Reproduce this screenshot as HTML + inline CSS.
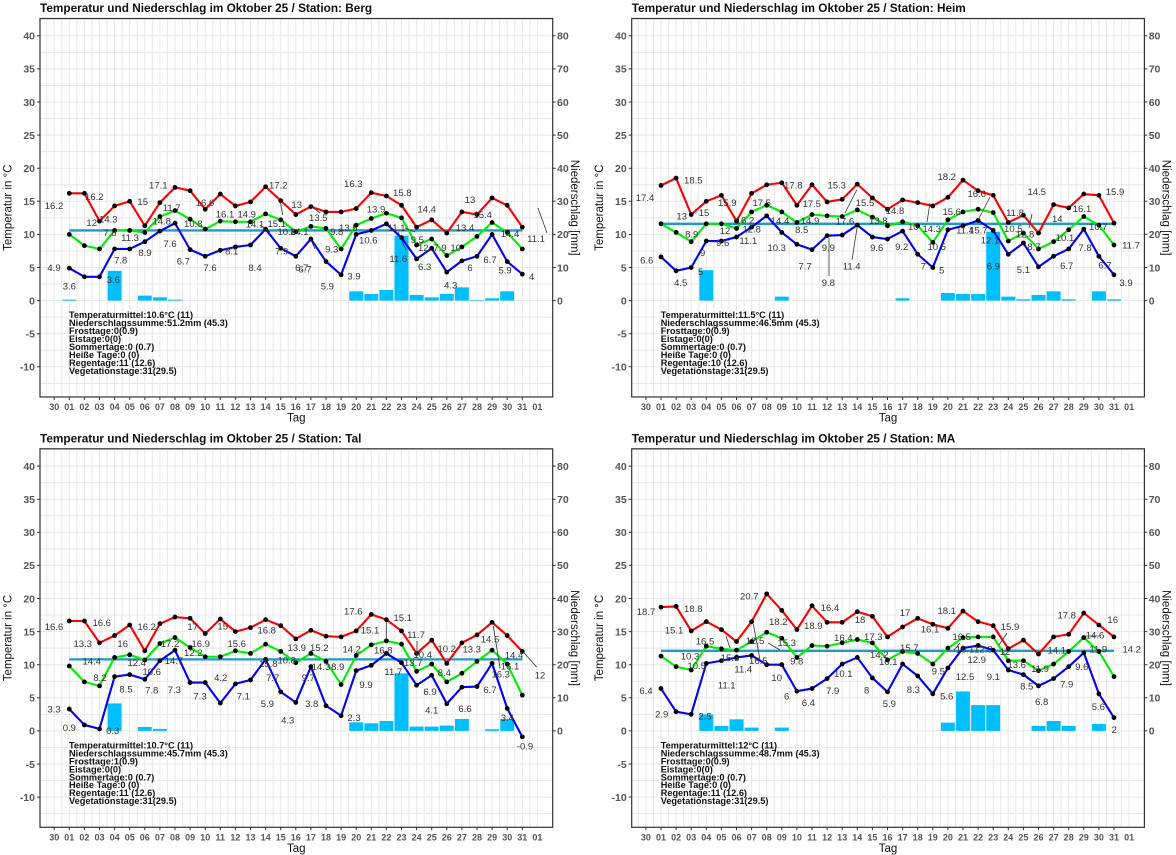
<!DOCTYPE html>
<html><head><meta charset="utf-8">
<style>
html,body{margin:0;padding:0;background:#fff}
svg{display:block;font-family:"Liberation Sans",Arial,sans-serif}
.ln{fill:none;stroke-width:2.1;vector-effect:non-scaling-stroke;stroke-linejoin:round}
.mn{stroke:#1d9bc6;stroke-width:2.3;vector-effect:non-scaling-stroke}
.yt{font-size:10.5px;font-weight:bold;fill:#555;text-anchor:end}
.rt{font-size:10.5px;font-weight:bold;fill:#555}
.xt{font-size:9px;font-weight:bold;fill:#555;text-anchor:middle}
.ti{font-size:11.8px;font-weight:bold;fill:#111}
.at{font-size:11.5px;fill:#111;text-anchor:middle}
.st{font-size:9.2px;font-weight:bold;fill:#111}
.lb{font-size:9.5px;fill:#333;text-anchor:middle}
.ll{stroke:#333;stroke-width:0.8;fill:none}
</style></head><body>
<svg width="1176" height="855" viewBox="0 0 1176 855" xmlns="http://www.w3.org/2000/svg">
<defs>
<marker id="dt" markerUnits="userSpaceOnUse" markerWidth="1" markerHeight="1" refX="0" refY="0" overflow="visible"><circle r="2.4" transform="scale(0.06623,0.15106)" fill="#000"/></marker>
<g id="fr">
<rect x="40" y="18.5" width="512.7" height="378.5" fill="#fff"/>
<path fill="none" stroke="#e8e8e8" stroke-width="1" d="M40,19.25h512.7m-512.7,16.55h512.7m-512.7,16.55h512.7m-512.7,16.55h512.7m-512.7,16.55h512.7m-512.7,16.55h512.7m-512.7,16.55h512.7m-512.7,16.55h512.7m-512.7,16.55h512.7m-512.7,16.55h512.7m-512.7,16.55h512.7m-512.7,16.55h512.7m-512.7,16.55h512.7m-512.7,16.55h512.7m-512.7,16.55h512.7m-512.7,16.55h512.7m-512.7,16.55h512.7m-512.7,16.55h512.7m-512.7,16.55h512.7m-512.7,16.55h512.7m-512.7,16.55h512.7m-512.7,16.55h512.7m-512.7,16.55h512.7"/>
<path fill="none" stroke="#e8e8e8" stroke-width="1" d="M46.65,18.5v378.5m7.55-378.5v378.5m7.55-378.5v378.5m7.55-378.5v378.5m7.55-378.5v378.5m7.55-378.5v378.5m7.55-378.5v378.5m7.55-378.5v378.5m7.55-378.5v378.5m7.55-378.5v378.5m7.55-378.5v378.5m7.55-378.5v378.5m7.55-378.5v378.5m7.55-378.5v378.5m7.55-378.5v378.5m7.55-378.5v378.5m7.55-378.5v378.5m7.55-378.5v378.5m7.55-378.5v378.5m7.55-378.5v378.5m7.55-378.5v378.5m7.55-378.5v378.5m7.55-378.5v378.5m7.55-378.5v378.5m7.55-378.5v378.5m7.55-378.5v378.5m7.55-378.5v378.5m7.55-378.5v378.5m7.55-378.5v378.5m7.55-378.5v378.5m7.55-378.5v378.5m7.55-378.5v378.5m7.55-378.5v378.5m7.55-378.5v378.5m7.55-378.5v378.5m7.55-378.5v378.5m7.55-378.5v378.5m7.55-378.5v378.5m7.55-378.5v378.5m7.55-378.5v378.5m7.55-378.5v378.5m7.55-378.5v378.5m7.55-378.5v378.5m7.55-378.5v378.5m7.55-378.5v378.5m7.55-378.5v378.5m7.55-378.5v378.5m7.55-378.5v378.5m7.55-378.5v378.5m7.55-378.5v378.5m7.55-378.5v378.5m7.55-378.5v378.5m7.55-378.5v378.5m7.55-378.5v378.5m7.55-378.5v378.5m7.55-378.5v378.5m7.55-378.5v378.5m7.55-378.5v378.5m7.55-378.5v378.5m7.55-378.5v378.5m7.55-378.5v378.5m7.55-378.5v378.5m7.55-378.5v378.5m7.55-378.5v378.5m7.55-378.5v378.5m7.55-378.5v378.5"/>
<rect x="40" y="18.5" width="512.7" height="378.5" fill="none" stroke="#333" stroke-width="1.2"/>
<path fill="none" stroke="#333" stroke-width="1" d="M37,35.8h3M37,68.9h3M37,102h3M37,135.1h3M37,168.2h3M37,201.3h3M37,234.4h3M37,267.5h3M37,300.6h3M37,333.7h3M37,366.8h3M552.7,35.8h3M552.7,68.9h3M552.7,102h3M552.7,135.1h3M552.7,168.2h3M552.7,201.3h3M552.7,234.4h3M552.7,267.5h3M552.7,300.6h3M54.2,397v3m15.1-3v3m15.1-3v3m15.1-3v3m15.1-3v3m15.1-3v3m15.1-3v3m15.1-3v3m15.1-3v3m15.1-3v3m15.1-3v3m15.1-3v3m15.1-3v3m15.1-3v3m15.1-3v3m15.1-3v3m15.1-3v3m15.1-3v3m15.1-3v3m15.1-3v3m15.1-3v3m15.1-3v3m15.1-3v3m15.1-3v3m15.1-3v3m15.1-3v3m15.1-3v3m15.1-3v3m15.1-3v3m15.1-3v3m15.1-3v3m15.1-3v3"/>
</g>
</defs>
<rect width="1176" height="855" fill="#fff"/>

<!-- ===== PANEL 1 : Berg ===== -->
<g>
<use href="#fr"/>
<text class="ti" x="40" y="12">Temperatur und Niederschlag im Oktober 25 / Station: Berg</text>
<g class="yt"><text x="35" y="39.6">40</text><text x="35" y="72.7">35</text><text x="35" y="105.8">30</text><text x="35" y="138.9">25</text><text x="35" y="172">20</text><text x="35" y="205.1">15</text><text x="35" y="238.2">10</text><text x="35" y="271.3">5</text><text x="35" y="304.4">0</text><text x="35" y="337.5">-5</text><text x="35" y="370.6">-10</text></g>
<g class="rt"><text x="557" y="39.6">80</text><text x="557" y="72.7">70</text><text x="557" y="105.8">60</text><text x="557" y="138.9">50</text><text x="557" y="172">40</text><text x="557" y="205.1">30</text><text x="557" y="238.2">20</text><text x="557" y="271.3">10</text><text x="557" y="304.4">0</text></g>
<text class="xt" y="410"><tspan x="54.2">30</tspan><tspan x="69.3">01</tspan><tspan x="84.4">02</tspan><tspan x="99.5">03</tspan><tspan x="114.6">04</tspan><tspan x="129.7">05</tspan><tspan x="144.8">06</tspan><tspan x="159.9">07</tspan><tspan x="175">08</tspan><tspan x="190.1">09</tspan><tspan x="205.2">10</tspan><tspan x="220.3">11</tspan><tspan x="235.4">12</tspan><tspan x="250.5">13</tspan><tspan x="265.6">14</tspan><tspan x="280.7">15</tspan><tspan x="295.8">16</tspan><tspan x="310.9">17</tspan><tspan x="326">18</tspan><tspan x="341.1">19</tspan><tspan x="356.2">20</tspan><tspan x="371.3">21</tspan><tspan x="386.4">22</tspan><tspan x="401.5">23</tspan><tspan x="416.6">24</tspan><tspan x="431.7">25</tspan><tspan x="446.8">26</tspan><tspan x="461.9">27</tspan><tspan x="477">28</tspan><tspan x="492.1">29</tspan><tspan x="507.2">30</tspan><tspan x="522.3">31</tspan><tspan x="537.4">01</tspan></text>
<text class="at" transform="translate(11.5,207.7) rotate(-90)">Temperatur in °C</text>
<text class="at" transform="translate(571,207.7) rotate(90)">Niederschlag [mm]</text>
<text class="at" x="296.3" y="421.5">Tag</text>
<g transform="translate(54.2,300.6) scale(15.1,-6.62)">
<g fill="#00bfff"><rect x="0.54" y="0" width="0.92" height="0.15"/><rect x="3.54" y="0" width="0.92" height="4.5"/><rect x="5.54" y="0" width="0.92" height="0.75"/><rect x="6.54" y="0" width="0.92" height="0.5"/><rect x="7.54" y="0" width="0.92" height="0.15"/><rect x="19.54" y="0" width="0.92" height="1.4"/><rect x="20.54" y="0" width="0.92" height="1"/><rect x="21.54" y="0" width="0.92" height="1.6"/><rect x="22.54" y="0" width="0.92" height="9.8"/><rect x="23.54" y="0" width="0.92" height="0.85"/><rect x="24.54" y="0" width="0.92" height="0.5"/><rect x="25.54" y="0" width="0.92" height="1"/><rect x="26.54" y="0" width="0.92" height="2"/><rect x="27.54" y="0" width="0.92" height="0.1"/><rect x="28.54" y="0" width="0.92" height="0.35"/><rect x="29.54" y="0" width="0.92" height="1.4"/></g>
<line class="mn" x1="1" y1="10.6" x2="31" y2="10.6"/>
<polyline class="ln" stroke="#ff0000" marker-start="url(#dt)" marker-mid="url(#dt)" marker-end="url(#dt)" points="1,16.2 2,16.2 3,12 4,14.3 5,15 6,11.3 7,14.8 8,17.1 9,16.6 10,13.8 11,16.1 12,14.3 13,14.9 14,17.2 15,15.1 16,13 17,14.2 18,13.4 19,13.4 20,13.9 21,16.3 22,15.8 23,14.4 24,11.1 25,12.2 26,10.2 27,13.4 28,13 29,15.5 30,14.4 31,11.1"/>
<polyline class="ln" stroke="#00ee00" marker-start="url(#dt)" marker-mid="url(#dt)" marker-end="url(#dt)" points="1,10 2,8.3 3,7.8 4,10.6 5,10.6 6,10.3 7,12.7 8,13.6 9,12.3 10,10.8 11,12 12,11.9 13,11.9 14,13.1 15,12.2 16,10.4 17,11.2 18,10.9 19,7.8 20,11.4 21,12.4 22,13.2 23,12.5 24,8.4 25,9.3 26,6.8 27,8.1 28,9.7 29,11.8 30,10.3 31,7.8"/>
<polyline class="ln" stroke="#0000ff" marker-start="url(#dt)" marker-mid="url(#dt)" marker-end="url(#dt)" points="1,4.9 2,3.6 3,3.6 4,7.8 5,7.8 6,8.9 7,10.5 8,11.7 9,7.7 10,6.7 11,7.6 12,8.1 13,8.4 14,10.8 15,7.9 16,6.7 17,9.3 18,5.9 19,3.9 20,10 21,10.6 22,11.6 23,9.5 24,6.3 25,7.9 26,4.3 27,6 28,6.7 29,10 30,5.9 31,4"/>
</g>
<g class="st"><text x="69" y="318.2">Temperaturmittel:10.6°C (11)</text><text x="69" y="326.1">Niederschlagssumme:51.2mm (45.3)</text><text x="69" y="334">Frosttage:0(0.9)</text><text x="69" y="342">Eistage:0(0)</text><text x="69" y="350">Sommertage:0 (0.7)</text><text x="69" y="357.9">Heiße Tage:0 (0)</text><text x="69" y="365.8">Regentage:11 (12.6)</text><text x="69" y="373.8">Vegetationstage:31(29.5)</text></g>
</g>

<!-- ===== PANEL 2 : Heim ===== -->
<g transform="translate(591.7,0)">
<use href="#fr"/>
<text class="ti" x="40" y="12">Temperatur und Niederschlag im Oktober 25 / Station: Heim</text>
<g class="yt"><text x="35" y="39.6">40</text><text x="35" y="72.7">35</text><text x="35" y="105.8">30</text><text x="35" y="138.9">25</text><text x="35" y="172">20</text><text x="35" y="205.1">15</text><text x="35" y="238.2">10</text><text x="35" y="271.3">5</text><text x="35" y="304.4">0</text><text x="35" y="337.5">-5</text><text x="35" y="370.6">-10</text></g>
<g class="rt"><text x="557" y="39.6">80</text><text x="557" y="72.7">70</text><text x="557" y="105.8">60</text><text x="557" y="138.9">50</text><text x="557" y="172">40</text><text x="557" y="205.1">30</text><text x="557" y="238.2">20</text><text x="557" y="271.3">10</text><text x="557" y="304.4">0</text></g>
<text class="xt" y="410"><tspan x="54.2">30</tspan><tspan x="69.3">01</tspan><tspan x="84.4">02</tspan><tspan x="99.5">03</tspan><tspan x="114.6">04</tspan><tspan x="129.7">05</tspan><tspan x="144.8">06</tspan><tspan x="159.9">07</tspan><tspan x="175">08</tspan><tspan x="190.1">09</tspan><tspan x="205.2">10</tspan><tspan x="220.3">11</tspan><tspan x="235.4">12</tspan><tspan x="250.5">13</tspan><tspan x="265.6">14</tspan><tspan x="280.7">15</tspan><tspan x="295.8">16</tspan><tspan x="310.9">17</tspan><tspan x="326">18</tspan><tspan x="341.1">19</tspan><tspan x="356.2">20</tspan><tspan x="371.3">21</tspan><tspan x="386.4">22</tspan><tspan x="401.5">23</tspan><tspan x="416.6">24</tspan><tspan x="431.7">25</tspan><tspan x="446.8">26</tspan><tspan x="461.9">27</tspan><tspan x="477">28</tspan><tspan x="492.1">29</tspan><tspan x="507.2">30</tspan><tspan x="522.3">31</tspan><tspan x="537.4">01</tspan></text>
<text class="at" transform="translate(11.5,207.7) rotate(-90)">Temperatur in °C</text>
<text class="at" transform="translate(571,207.7) rotate(90)">Niederschlag [mm]</text>
<text class="at" x="296.3" y="421.5">Tag</text>
<g transform="translate(54.2,300.6) scale(15.1,-6.62)">
<g fill="#00bfff"><rect x="3.54" y="0" width="0.92" height="4.6"/><rect x="8.54" y="0" width="0.92" height="0.6"/><rect x="16.54" y="0" width="0.92" height="0.35"/><rect x="19.54" y="0" width="0.92" height="1.15"/><rect x="20.54" y="0" width="0.92" height="1"/><rect x="21.54" y="0" width="0.92" height="1"/><rect x="22.54" y="0" width="0.92" height="10.4"/><rect x="23.54" y="0" width="0.92" height="0.6"/><rect x="24.54" y="0" width="0.92" height="0.2"/><rect x="25.54" y="0" width="0.92" height="0.85"/><rect x="26.54" y="0" width="0.92" height="1.4"/><rect x="27.54" y="0" width="0.92" height="0.2"/><rect x="29.54" y="0" width="0.92" height="1.4"/><rect x="30.54" y="0" width="0.92" height="0.2"/></g>
<line class="mn" x1="1" y1="11.6" x2="31" y2="11.6"/>
<polyline class="ln" stroke="#ff0000" marker-start="url(#dt)" marker-mid="url(#dt)" marker-end="url(#dt)" points="1,17.4 2,18.5 3,13 4,15 5,15.9 6,12 7,16.2 8,17.5 9,17.8 10,14.4 11,17.5 12,14.9 13,15.3 14,17.6 15,15.5 16,13.8 17,15.2 18,14.8 19,14.3 20,15.6 21,18.2 22,16.6 23,15.9 24,11.8 25,12.9 26,10.2 27,14.5 28,14 29,16.1 30,15.9 31,11.7"/>
<polyline class="ln" stroke="#00ee00" marker-start="url(#dt)" marker-mid="url(#dt)" marker-end="url(#dt)" points="1,11.6 2,10.3 3,8.9 4,11.6 5,11.6 6,10.9 7,13.4 8,14.4 9,13.4 10,11.8 11,13 12,12.8 13,12.7 14,13.7 15,12.6 16,11.3 17,11.9 18,11.3 19,8.8 20,12.2 21,13.4 22,13.8 23,13.3 24,9 25,10.2 26,7.8 27,8.9 28,10.7 29,12.7 30,11.4 31,8.4"/>
<polyline class="ln" stroke="#0000ff" marker-start="url(#dt)" marker-mid="url(#dt)" marker-end="url(#dt)" points="1,6.6 2,4.5 3,5 4,9 5,9 6,9.6 7,11.1 8,12.8 9,10.3 10,8.5 11,7.7 12,9.8 13,9.9 14,11.4 15,9.6 16,9.3 17,10.5 18,7 19,5 20,10.7 21,11.3 22,12.1 23,10.6 24,7 25,8.7 26,5.1 27,6.7 28,7.8 29,10.8 30,6.7 31,3.9"/>
</g>
<g class="st"><text x="69" y="318.2">Temperaturmittel:11.5°C (11)</text><text x="69" y="326.1">Niederschlagssumme:46.5mm (45.3)</text><text x="69" y="334">Frosttage:0(0.9)</text><text x="69" y="342">Eistage:0(0)</text><text x="69" y="350">Sommertage:0 (0.7)</text><text x="69" y="357.9">Heiße Tage:0 (0)</text><text x="69" y="365.8">Regentage:10 (12.6)</text><text x="69" y="373.8">Vegetationstage:31(29.5)</text></g>
</g>

<!-- ===== PANEL 3 : Tal ===== -->
<g transform="translate(0,430.3)">
<use href="#fr"/>
<text class="ti" x="40" y="12">Temperatur und Niederschlag im Oktober 25 / Station: Tal</text>
<g class="yt"><text x="35" y="39.6">40</text><text x="35" y="72.7">35</text><text x="35" y="105.8">30</text><text x="35" y="138.9">25</text><text x="35" y="172">20</text><text x="35" y="205.1">15</text><text x="35" y="238.2">10</text><text x="35" y="271.3">5</text><text x="35" y="304.4">0</text><text x="35" y="337.5">-5</text><text x="35" y="370.6">-10</text></g>
<g class="rt"><text x="557" y="39.6">80</text><text x="557" y="72.7">70</text><text x="557" y="105.8">60</text><text x="557" y="138.9">50</text><text x="557" y="172">40</text><text x="557" y="205.1">30</text><text x="557" y="238.2">20</text><text x="557" y="271.3">10</text><text x="557" y="304.4">0</text></g>
<text class="xt" y="410"><tspan x="54.2">30</tspan><tspan x="69.3">01</tspan><tspan x="84.4">02</tspan><tspan x="99.5">03</tspan><tspan x="114.6">04</tspan><tspan x="129.7">05</tspan><tspan x="144.8">06</tspan><tspan x="159.9">07</tspan><tspan x="175">08</tspan><tspan x="190.1">09</tspan><tspan x="205.2">10</tspan><tspan x="220.3">11</tspan><tspan x="235.4">12</tspan><tspan x="250.5">13</tspan><tspan x="265.6">14</tspan><tspan x="280.7">15</tspan><tspan x="295.8">16</tspan><tspan x="310.9">17</tspan><tspan x="326">18</tspan><tspan x="341.1">19</tspan><tspan x="356.2">20</tspan><tspan x="371.3">21</tspan><tspan x="386.4">22</tspan><tspan x="401.5">23</tspan><tspan x="416.6">24</tspan><tspan x="431.7">25</tspan><tspan x="446.8">26</tspan><tspan x="461.9">27</tspan><tspan x="477">28</tspan><tspan x="492.1">29</tspan><tspan x="507.2">30</tspan><tspan x="522.3">31</tspan><tspan x="537.4">01</tspan></text>
<text class="at" transform="translate(11.5,207.7) rotate(-90)">Temperatur in °C</text>
<text class="at" transform="translate(571,207.7) rotate(90)">Niederschlag [mm]</text>
<text class="at" x="296.3" y="421.5">Tag</text>
<g transform="translate(54.2,300.6) scale(15.1,-6.62)">
<g fill="#00bfff"><rect x="3.54" y="0" width="0.92" height="4.15"/><rect x="5.54" y="0" width="0.92" height="0.6"/><rect x="6.54" y="0" width="0.92" height="0.3"/><rect x="19.54" y="0" width="0.92" height="1.3"/><rect x="20.54" y="0" width="0.92" height="1.15"/><rect x="21.54" y="0" width="0.92" height="1.5"/><rect x="22.54" y="0" width="0.92" height="8.7"/><rect x="23.54" y="0" width="0.92" height="0.65"/><rect x="24.54" y="0" width="0.92" height="0.65"/><rect x="25.54" y="0" width="0.92" height="0.8"/><rect x="26.54" y="0" width="0.92" height="1.8"/><rect x="28.54" y="0" width="0.92" height="0.25"/><rect x="29.54" y="0" width="0.92" height="1.8"/></g>
<line class="mn" x1="1" y1="10.8" x2="31" y2="10.8"/>
<polyline class="ln" stroke="#ff0000" marker-start="url(#dt)" marker-mid="url(#dt)" marker-end="url(#dt)" points="1,16.6 2,16.6 3,13.3 4,14.4 5,16 6,12.1 7,16.2 8,17.2 9,17 10,14.7 11,16.9 12,15 13,15.6 14,16.8 15,15.9 16,13.9 17,15.2 18,14.3 19,14.2 20,15.1 21,17.6 22,16.8 23,15.1 24,11.7 25,13.7 26,10.2 27,13.3 28,14.5 29,16.4 30,14.4 31,12"/>
<polyline class="ln" stroke="#00ee00" marker-start="url(#dt)" marker-mid="url(#dt)" marker-end="url(#dt)" points="1,9.8 2,7.4 3,6.8 4,11.1 5,11.5 6,10.7 7,13.2 8,14.1 9,12.6 10,11.2 11,11.2 12,12.1 13,11.7 14,13.1 15,12 16,10.3 17,11.7 18,10.5 19,7 20,11.4 21,13 22,13.6 23,13.1 24,9 25,10.1 26,7.4 27,8.7 28,10.5 29,12.2 30,10.1 31,5.4"/>
<polyline class="ln" stroke="#0000ff" marker-start="url(#dt)" marker-mid="url(#dt)" marker-end="url(#dt)" points="1,3.3 2,0.9 3,0.3 4,8.2 5,8.5 6,7.8 7,10.6 8,12.2 9,7.3 10,7.3 11,4.2 12,7.1 13,7.7 14,10.8 15,5.9 16,4.3 17,9.7 18,3.8 19,2.3 20,9.1 21,9.9 22,11.7 23,10.3 24,6.9 25,8.4 26,4.1 27,6.6 28,6.7 29,10.2 30,3.4 31,-0.9"/>
</g>
<g class="st"><text x="69" y="318.2">Temperaturmittel:10.7°C (11)</text><text x="69" y="326.1">Niederschlagssumme:45.7mm (45.3)</text><text x="69" y="334">Frosttage:1(0.9)</text><text x="69" y="342">Eistage:0(0)</text><text x="69" y="350">Sommertage:0 (0.7)</text><text x="69" y="357.9">Heiße Tage:0 (0)</text><text x="69" y="365.8">Regentage:11 (12.6)</text><text x="69" y="373.8">Vegetationstage:31(29.5)</text></g>
</g>

<!-- ===== PANEL 4 : MA ===== -->
<g transform="translate(591.7,430.3)">
<use href="#fr"/>
<text class="ti" x="40" y="12">Temperatur und Niederschlag im Oktober 25 / Station: MA</text>
<g class="yt"><text x="35" y="39.6">40</text><text x="35" y="72.7">35</text><text x="35" y="105.8">30</text><text x="35" y="138.9">25</text><text x="35" y="172">20</text><text x="35" y="205.1">15</text><text x="35" y="238.2">10</text><text x="35" y="271.3">5</text><text x="35" y="304.4">0</text><text x="35" y="337.5">-5</text><text x="35" y="370.6">-10</text></g>
<g class="rt"><text x="557" y="39.6">80</text><text x="557" y="72.7">70</text><text x="557" y="105.8">60</text><text x="557" y="138.9">50</text><text x="557" y="172">40</text><text x="557" y="205.1">30</text><text x="557" y="238.2">20</text><text x="557" y="271.3">10</text><text x="557" y="304.4">0</text></g>
<text class="xt" y="410"><tspan x="54.2">30</tspan><tspan x="69.3">01</tspan><tspan x="84.4">02</tspan><tspan x="99.5">03</tspan><tspan x="114.6">04</tspan><tspan x="129.7">05</tspan><tspan x="144.8">06</tspan><tspan x="159.9">07</tspan><tspan x="175">08</tspan><tspan x="190.1">09</tspan><tspan x="205.2">10</tspan><tspan x="220.3">11</tspan><tspan x="235.4">12</tspan><tspan x="250.5">13</tspan><tspan x="265.6">14</tspan><tspan x="280.7">15</tspan><tspan x="295.8">16</tspan><tspan x="310.9">17</tspan><tspan x="326">18</tspan><tspan x="341.1">19</tspan><tspan x="356.2">20</tspan><tspan x="371.3">21</tspan><tspan x="386.4">22</tspan><tspan x="401.5">23</tspan><tspan x="416.6">24</tspan><tspan x="431.7">25</tspan><tspan x="446.8">26</tspan><tspan x="461.9">27</tspan><tspan x="477">28</tspan><tspan x="492.1">29</tspan><tspan x="507.2">30</tspan><tspan x="522.3">31</tspan><tspan x="537.4">01</tspan></text>
<text class="at" transform="translate(11.5,207.7) rotate(-90)">Temperatur in °C</text>
<text class="at" transform="translate(571,207.7) rotate(90)">Niederschlag [mm]</text>
<text class="at" x="296.3" y="421.5">Tag</text>
<g transform="translate(54.2,300.6) scale(15.1,-6.62)">
<g fill="#00bfff"><rect x="3.54" y="0" width="0.92" height="2.5"/><rect x="4.54" y="0" width="0.92" height="0.75"/><rect x="5.54" y="0" width="0.92" height="1.75"/><rect x="6.54" y="0" width="0.92" height="0.5"/><rect x="8.54" y="0" width="0.92" height="0.5"/><rect x="19.54" y="0" width="0.92" height="1.25"/><rect x="20.54" y="0" width="0.92" height="5.95"/><rect x="21.54" y="0" width="0.92" height="3.9"/><rect x="22.54" y="0" width="0.92" height="3.9"/><rect x="25.54" y="0" width="0.92" height="0.75"/><rect x="26.54" y="0" width="0.92" height="1.5"/><rect x="27.54" y="0" width="0.92" height="0.75"/><rect x="29.54" y="0" width="0.92" height="1.05"/></g>
<line class="mn" x1="1" y1="12.1" x2="31" y2="12.1"/>
<polyline class="ln" stroke="#ff0000" marker-start="url(#dt)" marker-mid="url(#dt)" marker-end="url(#dt)" points="1,18.7 2,18.8 3,15.1 4,16.5 5,15.3 6,13.5 7,16.5 8,20.7 9,18.2 10,15.3 11,18.9 12,16.4 13,16.4 14,18 15,17.3 16,14.2 17,15.7 18,17 19,16.1 20,15.5 21,18.1 22,16.5 23,15.9 24,12.4 25,13.7 26,11.6 27,14.2 28,14.6 29,17.8 30,16 31,14.2"/>
<polyline class="ln" stroke="#00ee00" marker-start="url(#dt)" marker-mid="url(#dt)" marker-end="url(#dt)" points="1,11.3 2,9.7 3,9.2 4,12.8 5,12.4 6,12.2 7,13.5 8,14.9 9,14 10,11.1 11,12.9 12,12.8 13,13.3 14,13.8 15,13.3 16,10.7 17,12 18,11.7 19,10.1 20,12.5 21,14.1 22,14.2 23,14.2 24,10.6 25,10.6 26,9.1 27,10.1 28,12 29,14.1 30,12 31,8.2"/>
<polyline class="ln" stroke="#0000ff" marker-start="url(#dt)" marker-mid="url(#dt)" marker-end="url(#dt)" points="1,6.4 2,2.9 3,2.5 4,10.2 5,10.6 6,11.1 7,11.4 8,10 9,10 10,6 11,6.4 12,7.9 13,10.1 14,11.1 15,8 16,5.9 17,10.1 18,8.3 19,5.6 20,9.5 21,12.5 22,12.9 23,12.2 24,9.2 25,8.5 26,6.8 27,7.9 28,9.7 29,11.8 30,5.6 31,2"/>
</g>
<g class="st"><text x="69" y="318.2">Temperaturmittel:12°C (11)</text><text x="69" y="326.1">Niederschlagssumme:48.7mm (45.3)</text><text x="69" y="334">Frosttage:0(0.9)</text><text x="69" y="342">Eistage:0(0)</text><text x="69" y="350">Sommertage:0 (0.7)</text><text x="69" y="357.9">Heiße Tage:0 (0)</text><text x="69" y="365.8">Regentage:11 (12.6)</text><text x="69" y="373.8">Vegetationstage:31(29.5)</text></g>
</g>

<!-- ===== LEADER LINES ===== -->
<path class="ll" d="M280,200L282.7,215M320,213L311,206M260,225L270,232M415,232L405,228M538,208L547,233M315,249L311,240M406,250L398,232M856.7,190L845,213M829,238L829,276M857,228L852,260M927,222L930,203M990,197L978,220M1029,228L1032,214M386.3,622L386.3,640M493.3,626L500,668M523.3,652L536.7,667M417,641L417,655M753.3,624L760,660M726,636L730,648M780,650L768,643M1084,636L1100,636M954,650L960,643M999,645L1007,633"/>

<!-- ===== DATA LABELS ===== -->
<g class="lb">
<text x="54" y="209.2">16.2</text><text x="94.3" y="200.2">16.2</text><text x="158.3" y="188.5">17.1</text><text x="278.3" y="188.5">17.2</text><text x="142.7" y="205.2">15</text><text x="91.7" y="225.8">12</text><text x="108.3" y="222.5">14.3</text><text x="171.7" y="210.8">11.7</text><text x="205" y="205.8">16.6</text><text x="225" y="217.5">16.1</text><text x="246.7" y="217.5">14.9</text><text x="161.7" y="224.5">14.8</text><text x="193.3" y="226.8">10.8</text><text x="255" y="227.5">14.1</text><text x="276.7" y="226.8">15.1</text><text x="286.7" y="235.2">10.8</text><text x="110" y="235.8">7.8</text><text x="130" y="241.2">11.3</text><text x="170" y="246.8">7.6</text><text x="145" y="255.8">8.9</text><text x="120.7" y="263.5">7.8</text><text x="183.3" y="264.5">6.7</text><text x="231.7" y="254.5">8.1</text><text x="281.7" y="254.5">7.9</text><text x="210" y="271.2">7.6</text><text x="255" y="271.2">8.4</text><text x="301.7" y="271.2">6.7</text><text x="54" y="271.2">4.9</text><text x="69.3" y="289.5">3.6</text><text x="113.3" y="282.8">3.6</text><text x="296.7" y="207.8">13</text><text x="318.3" y="221.2">13.5</text><text x="353.3" y="186.8">16.3</text><text x="402.3" y="195.8">15.8</text><text x="426.7" y="212.5">14.4</text><text x="376" y="212.5">13.9</text><text x="470" y="202.8">13</text><text x="482.7" y="217.8">15.4</text><text x="465" y="230.8">13.4</text><text x="299.3" y="235.2">14.1</text><text x="336.7" y="235.2">9.8</text><text x="348.3" y="230.8">13.5</text><text x="396.7" y="230.8">11.1</text><text x="417.3" y="242.8">9.5</text><text x="423.3" y="250.8">12</text><text x="440" y="250.8">7.9</text><text x="455.7" y="250.8">10</text><text x="510" y="236.8">14.4</text><text x="536" y="241.8">11.1</text><text x="368.3" y="243.5">10.6</text><text x="331.7" y="252.5">9.3</text><text x="305" y="272.5">6.7</text><text x="327.3" y="289.5">5.9</text><text x="354" y="279.5">3.9</text><text x="398.3" y="261.8">11.6</text><text x="424.7" y="270.2">6.3</text><text x="470" y="270.8">6</text><text x="490" y="262.8">6.7</text><text x="450.7" y="288.5">4.3</text><text x="505" y="273.5">5.9</text><text x="531.7" y="280.2">4</text>

<text x="645" y="200.8">17.4</text><text x="693.3" y="183.5">18.5</text><text x="681.7" y="219.5">13</text><text x="704" y="216.2">15</text><text x="727.3" y="205.8">15.9</text><text x="761.7" y="205.8">17.5</text><text x="793.3" y="188.5">17.8</text><text x="836.7" y="188.5">15.3</text><text x="811.7" y="206.8">17.5</text><text x="865" y="205.8">15.5</text><text x="745" y="223.5">16.2</text><text x="780" y="224.2">14.4</text><text x="810" y="224.2">14.9</text><text x="845" y="224.5">17.6</text><text x="878.3" y="224.2">13.8</text><text x="691.7" y="237.5">8.9</text><text x="725" y="234.2">12</text><text x="751.7" y="232.5">12.8</text><text x="801.7" y="232.8">8.5</text><text x="702.7" y="256.2">9</text><text x="722.7" y="246.2">9.6</text><text x="748.3" y="244.2">11.1</text><text x="776.7" y="250.8">10.3</text><text x="828.3" y="250.8">9.9</text><text x="876.7" y="250.8">9.6</text><text x="646.7" y="263.5">6.6</text><text x="680.7" y="285.8">4.5</text><text x="700.7" y="275.2">5</text><text x="805" y="269.5">7.7</text><text x="828.3" y="285.8">9.8</text><text x="851.7" y="269.5">11.4</text><text x="895" y="214.2">14.8</text><text x="946.7" y="180.2">18.2</text><text x="976.7" y="196.8">16.6</text><text x="951.7" y="215.2">15.6</text><text x="1015" y="216.2">11.8</text><text x="1036.7" y="195.2">14.5</text><text x="1057.3" y="221.8">14</text><text x="1082" y="211.8">16.1</text><text x="1115" y="195.2">15.9</text><text x="1098.3" y="230.2">10.7</text><text x="1131" y="248.5">11.7</text><text x="913.3" y="230.2">10</text><text x="931.7" y="231.8">14.3</text><text x="965" y="233.5">11.4</text><text x="978.3" y="233.5">15.7</text><text x="1013.3" y="231.8">10.5</text><text x="1025" y="237.5">12.8</text><text x="1065" y="240.8">10.1</text><text x="901.7" y="250.2">9.2</text><text x="936.7" y="250.2">10.5</text><text x="990" y="243.5">12.1</text><text x="1034" y="250.2">8.7</text><text x="1085" y="250.8">7.8</text><text x="923.3" y="269.5">7</text><text x="941.7" y="273.5">5</text><text x="993.3" y="269.5">6.9</text><text x="1023.3" y="272.8">5.1</text><text x="1066.7" y="269.2">6.7</text><text x="1105" y="268.5">6.7</text><text x="1126" y="286.2">3.9</text>

<text x="54" y="630.2">16.6</text><text x="101.7" y="625.8">16.6</text><text x="146.7" y="630.2">16.2</text><text x="192.7" y="630.2">17</text><text x="222.7" y="629.5">15</text><text x="266.7" y="633.5">16.8</text><text x="82.7" y="646.8">13.3</text><text x="122.7" y="646.8">16</text><text x="170" y="646.8">17.2</text><text x="200.7" y="646.8">16.9</text><text x="236.7" y="646.8">15.6</text><text x="296.7" y="651.2">13.9</text><text x="91.7" y="664.5">14.4</text><text x="136.7" y="665.8">12.4</text><text x="174" y="664.2">14.7</text><text x="193.3" y="655.8">12.2</text><text x="268.3" y="666.8">15.8</text><text x="286.7" y="663.5">10.8</text><text x="100" y="680.8">8.2</text><text x="151.7" y="675.2">10.6</text><text x="126" y="692.5">8.5</text><text x="151.7" y="693.5">7.8</text><text x="174.3" y="692.8">7.3</text><text x="200" y="699.5">7.3</text><text x="220.7" y="681.2">4.2</text><text x="243.3" y="699.5">7.1</text><text x="272.7" y="680.8">7.7</text><text x="267.3" y="706.8">5.9</text><text x="287.7" y="723.5">4.3</text><text x="54" y="712.5">3.3</text><text x="69.3" y="730.8">0.9</text><text x="112.7" y="734.2">0.3</text><text x="319.3" y="650.8">15.2</text><text x="321" y="670.2">14.3</text><text x="337.7" y="670.2">8.9</text><text x="308.3" y="680.8">9.7</text><text x="311.7" y="706.8">3.8</text><text x="353.3" y="614.5">17.6</text><text x="370" y="633.5">15.1</text><text x="402.7" y="620.8">15.1</text><text x="351.7" y="652.5">14.2</text><text x="383.3" y="653.5">16.8</text><text x="416" y="637.8">11.7</text><text x="422.7" y="657.8">10.4</text><text x="413.3" y="666.2">13.7</text><text x="393.3" y="675.2">11.7</text><text x="366" y="687.8">9.9</text><text x="446.7" y="651.8">10.2</text><text x="444.3" y="675.8">8.4</text><text x="471.7" y="652.5">13.3</text><text x="490" y="642.5">14.5</text><text x="514" y="658.5">14.4</text><text x="510" y="669.5">16.1</text><text x="500.7" y="677.5">16.3</text><text x="540" y="678.5">12</text><text x="430" y="695.2">6.9</text><text x="465" y="711.8">6.6</text><text x="490" y="692.8">6.7</text><text x="431.7" y="713.5">4.1</text><text x="354" y="721.2">2.3</text><text x="507.3" y="721.2">3.4</text><text x="525" y="749.5">-0.9</text>

<text x="646" y="615.2">18.7</text><text x="693.3" y="611.8">18.8</text><text x="749.3" y="599.5">20.7</text><text x="830" y="610.8">16.4</text><text x="860" y="622.8">18</text><text x="778.3" y="625.2">18.2</text><text x="813.3" y="629.2">18.9</text><text x="873.3" y="640.2">17.3</text><text x="674" y="633.5">15.1</text><text x="705" y="644.5">16.5</text><text x="755" y="644.2">12.5</text><text x="786.7" y="646.2">15.3</text><text x="843.3" y="640.8">16.4</text><text x="879.3" y="657.8">14.2</text><text x="690" y="659.5">10.3</text><text x="730" y="660.8">15.3</text><text x="796.7" y="664.5">9.8</text><text x="696.7" y="669.2">10.5</text><text x="758.3" y="664.2">16.5</text><text x="743.3" y="672.5">11.4</text><text x="726.7" y="688.5">11.1</text><text x="776.7" y="680.8">10</text><text x="843.3" y="676.8">10.1</text><text x="646" y="694.2">6.4</text><text x="786.7" y="699.5">6</text><text x="808.3" y="706.2">6.4</text><text x="832.7" y="694.2">7.9</text><text x="866.7" y="693.5">8</text><text x="661.7" y="717.5">2.9</text><text x="705" y="719.5">2.5</text><text x="905" y="615.8">17</text><text x="946.7" y="614.2">18.1</text><text x="930" y="632.5">16.1</text><text x="961.7" y="640.2">16.5</text><text x="1010" y="630.2">15.9</text><text x="1066.7" y="618.5">17.8</text><text x="1112.7" y="622.8">16</text><text x="909.3" y="650.8">15.7</text><text x="965" y="652.5">15.1</text><text x="983.3" y="652.5">12.3</text><text x="1005" y="655.2">12</text><text x="1056.7" y="653.5">14.1</text><text x="1095" y="638.5">14.6</text><text x="1098.3" y="652.5">11.9</text><text x="1131.7" y="652.5">14.2</text><text x="888.3" y="665.2">10.1</text><text x="938.3" y="674.5">9.5</text><text x="976.7" y="662.8">12.9</text><text x="1016.7" y="667.8">13.6</text><text x="1040" y="671.8">11.9</text><text x="1081.7" y="670.2">9.6</text><text x="913.3" y="692.8">8.3</text><text x="889.3" y="706.8">5.9</text><text x="965" y="680.2">12.5</text><text x="993.3" y="680.2">9.1</text><text x="1026.7" y="689.5">8.5</text><text x="1066.7" y="687.5">7.9</text><text x="946.7" y="699.5">5.6</text><text x="1041.7" y="705.2">6.8</text><text x="1098.3" y="710.2">5.6</text><text x="1114.3" y="732.8">2</text>
</g>
</svg>
</body></html>
